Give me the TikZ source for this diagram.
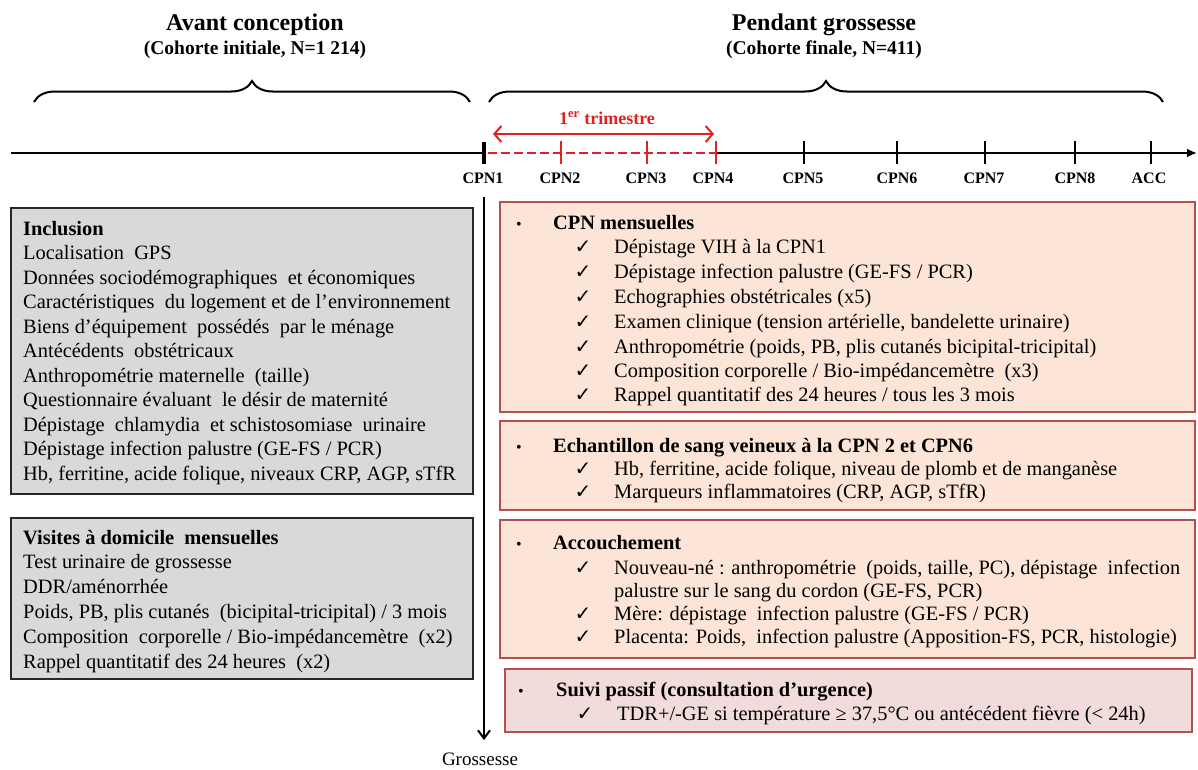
\documentclass[tikz,border=0pt]{standalone}
\usepackage{fontspec}
\setmainfont{Liberation Serif}
\newfontfamily\dejavu{DejaVu Sans}
\usetikzlibrary{arrows.meta,decorations.pathreplacing}
\definecolor{timered}{RGB}{226,32,32}
\definecolor{lgray}{RGB}{217,217,217}
\definecolor{lborder}{RGB}{40,40,40}
\definecolor{peach}{RGB}{252,228,214}
\definecolor{boxpink}{RGB}{242,220,219}
\definecolor{rborder}{RGB}{180,80,77}
\begin{document}
\begin{tikzpicture}[x=1pt,y=-1pt,
  txt/.style={font=\fontsize{20.4}{24.5}\selectfont, inner sep=0, anchor=base west},
  hd/.style={font=\fontsize{20.4}{24.5}\selectfont\bfseries, inner sep=0, anchor=base west},
  chk/.style={font=\dejavu\fontsize{20}{20}\selectfont, inner sep=0, anchor=base},
  bul/.style={font=\fontsize{16}{16}\selectfont, inner sep=0, anchor=base},
  lbox/.style={draw=lborder, fill=lgray, line width=1.5, inner sep=0, outer sep=0, anchor=north west},
  rbox/.style={draw=rborder, fill=peach, line width=2, inner sep=0, outer sep=0, anchor=north west},
  cpn/.style={font=\fontsize{16}{16}\selectfont\bfseries, inner sep=0, anchor=base},
  brc/.style={decorate, decoration={brace, amplitude=21pt}, line width=2},
  tick/.style={line width=1.8},
  redtick/.style={line width=1.8, draw=timered},
]
\useasboundingbox (0,0) rectangle (1198,769);

% ---------- headers ----------
\node[font=\fontsize{24}{24}\selectfont\bfseries, inner sep=0, anchor=base] (h1) at (255,30) {Avant conception};
\node[font=\fontsize{19.5}{19.5}\selectfont\bfseries, inner sep=0, anchor=base] (h1b) at (255,54) {(Cohorte initiale, N=1 214)};
\node[font=\fontsize{24}{24}\selectfont\bfseries, inner sep=0, anchor=base] (h2) at (824,30) {Pendant grossesse};
\node[font=\fontsize{19.5}{19.5}\selectfont\bfseries, inner sep=0, anchor=base] (h2b) at (824,54) {(Cohorte finale, N=411)};

% ---------- braces ----------
\coordinate (b1l) at (34,102);
\coordinate (b1r) at (470,102);
\coordinate (b2l) at (489,102);
\coordinate (b2r) at (1163,102);
\draw[brc] (b1l) -- (b1r);
\draw[brc] (b2l) -- (b2r);

% ---------- timeline ----------
\coordinate (t0) at (11,153);
\coordinate (t1) at (482,153);
\coordinate (tr0) at (488,153);
\coordinate (tc4) at (716,153);
\coordinate (tend) at (1197,153);
\draw[line width=2.2] (t0) -- (t1);
\draw[line width=2.2, timered, dash pattern=on 9pt off 4pt] (tr0) -- (tc4);
\draw[line width=2.2, -{Latex[length=10pt,width=9pt]}] (tc4) -- (tend);

% ticks
\draw[line width=4] (484,142) -- (484,164);
\foreach \x in {561,647,716} \draw[redtick] (\x,141) -- (\x,164);
\foreach \x in {804,897,985,1075,1151} \draw[tick] (\x,141) -- (\x,164);

\node[cpn] (c1) at (483,183) {CPN1};
\node[cpn] (c2) at (560,183) {CPN2};
\node[cpn] (c3) at (646,183) {CPN3};
\node[cpn] (c4) at (713,183) {CPN4};
\node[cpn] (c5) at (803,183) {CPN5};
\node[cpn] (c6) at (897,183) {CPN6};
\node[cpn] (c7) at (984,183) {CPN7};
\node[cpn] (c8) at (1075,183) {CPN8};
\node[cpn] (c9) at (1149,183) {ACC};

% first trimester
\coordinate (ta) at (493,134);
\coordinate (tb) at (714,134);
\draw[line width=2, timered, {Straight Barb[length=7pt,width=16pt]}-{Straight Barb[length=7pt,width=16pt]}] (ta) -- (tb);
\node[font=\fontsize{18}{18}\selectfont\bfseries, text=timered, inner sep=0, anchor=base] (tri) at (607,124) {1\textsuperscript{er} trimestre};

% ---------- vertical arrow ----------
\coordinate (vtop) at (484,197);
\coordinate (vend) at (484,740);
\draw[line width=2, -{Straight Barb[length=8pt,width=12pt]}] (vtop) -- (vend);
\node[font=\fontsize{19}{19}\selectfont, inner sep=0, anchor=base] (gross) at (480,765) {Grossesse};

% ---------- left boxes ----------
\node[lbox, minimum width=462, minimum height=286] (lb1) at (11,208) {};
\node[hd]  (l1a) at (23,235)   {Inclusion};
\node[txt] (l1b) at (23,259.5) {Localisation\ \ GPS};
\node[txt] (l1c) at (23,284)   {Données sociodémographiques\ \ et économiques};
\node[txt] (l1d) at (23,308.5) {Caractéristiques\ \ du logement et de l’environnement};
\node[txt] (l1e) at (23,333)   {Biens d’équipement\ \ possédés\ \ par le ménage};
\node[txt] (l1f) at (23,357.5) {Antécédents\ \ obstétricaux};
\node[txt] (l1g) at (23,382)   {Anthropométrie maternelle\ \ (taille)};
\node[txt] (l1h) at (23,406.5) {Questionnaire évaluant\ \ le désir de maternité};
\node[txt] (l1i) at (23,431)   {Dépistage\ \ chlamydia\ \ et schistosomiase\ \ urinaire};
\node[txt] (l1j) at (23,455.5) {Dépistage infection palustre (GE-FS / PCR)};
\node[txt] (l1k) at (23,480)   {Hb, ferritine, acide folique, niveaux CRP, AGP, sTfR};

\node[lbox, minimum width=462, minimum height=161] (lb2) at (11,518) {};
\node[hd]  (l2a) at (23,544)   {Visites à domicile\ \ mensuelles};
\node[txt] (l2b) at (23,568.8) {Test urinaire de grossesse};
\node[txt] (l2c) at (23,593.6) {DDR/aménorrhée};
\node[txt] (l2d) at (23,618.4) {Poids, PB, plis cutanés\ \ (bicipital-tricipital) / 3 mois};
\node[txt] (l2e) at (23,643.2) {Composition\ \ corporelle / Bio-impédancemètre\ \ (x2)};
\node[txt] (l2f) at (23,668)   {Rappel quantitatif des 24 heures\ \ (x2)};

% ---------- right boxes ----------
\node[rbox, minimum width=695, minimum height=210] (rb1) at (500,202) {};
\node[bul] (r1b) at (519,229) {•};
\node[hd]  (r1h) at (553,229) {CPN mensuelles};
\foreach \y/\t [count=\i] in {253.8/{Dépistage VIH à la CPN1},
  278.6/{Dépistage infection palustre (GE-FS / PCR)},
  303.4/{Echographies obstétricales (x5)},
  328.2/{Examen clinique (tension artérielle, bandelette urinaire)},
  353/{Anthropométrie (poids, PB, plis cutanés bicipital-tricipital)},
  377.8/{Composition corporelle / Bio-impédancemètre\ \ (x3)},
  401/{Rappel quantitatif des 24 heures / tous les 3 mois}} {
  \node[chk] (r1c\i) at (583,\y) {✓};
  \node[txt] (r1t\i) at (614,\y) {\t};
}

\node[rbox, minimum width=695, minimum height=89] (rb2) at (500,421) {};
\node[bul] (r2b) at (519,452) {•};
\node[hd]  (r2h) at (553,452) {Echantillon de sang veineux à la CPN 2 et CPN6};
\node[chk] (r2c1) at (583,475) {✓};
\node[txt] (r2t1) at (614,475) {Hb, ferritine, acide folique, niveau de plomb et de manganèse};
\node[chk] (r2c2) at (583,498) {✓};
\node[txt] (r2t2) at (614,498) {Marqueurs inflammatoires (CRP, AGP, sTfR)};

\node[rbox, minimum width=695, minimum height=138] (rb3) at (500,520) {};
\node[bul] (r3b) at (519,549) {•};
\node[hd]  (r3h) at (553,549) {Accouchement};
\node[chk] (r3c1) at (583,574) {✓};
\node[txt] (r3t1) at (614,574) {Nouveau-né : anthropométrie\ \ (poids, taille, PC), dépistage\ \ infection};
\node[txt] (r3t1b) at (614,597) {palustre sur le sang du cordon (GE-FS, PCR)};
\node[chk] (r3c2) at (583,620) {✓};
\node[txt] (r3t2) at (614,620) {Mère: dépistage\ \ infection palustre (GE-FS / PCR)};
\node[chk] (r3c3) at (583,643) {✓};
\node[txt] (r3t3) at (614,643) {Placenta: Poids,\ \ infection palustre (Apposition-FS, PCR, histologie)};

\node[rbox, fill=boxpink, minimum width=687, minimum height=63] (rb4) at (505,669) {};
\node[bul] (r4b) at (521,696) {•};
\node[hd]  (r4h) at (556,696) {Suivi passif (consultation d’urgence)};
\node[chk] (r4c1) at (585,720) {✓};
\node[txt] (r4t1) at (617,720) {TDR+/-GE si température ≥ 37,5°C ou antécédent fièvre (< 24h)};
\end{tikzpicture}
\end{document}
